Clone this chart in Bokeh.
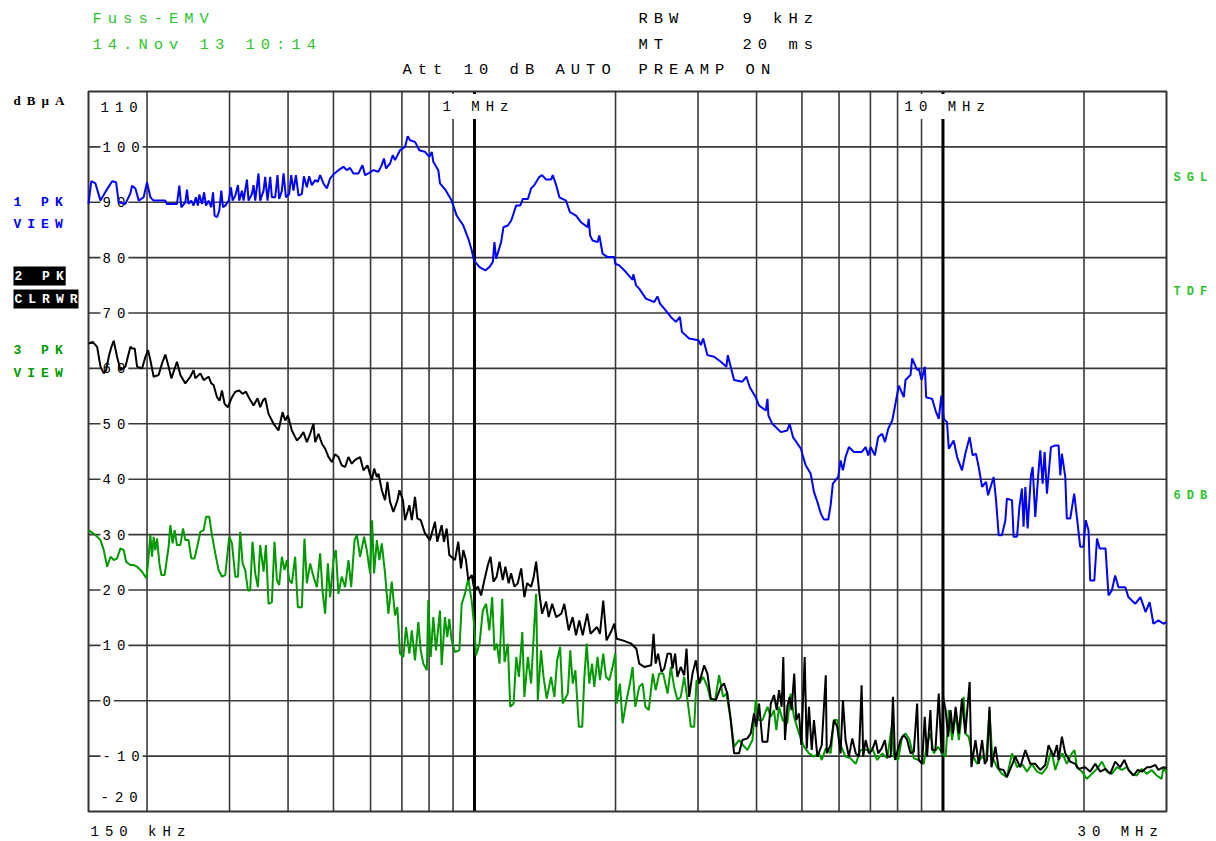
import math
from bokeh.plotting import figure
from bokeh.models import Label
from bokeh.embed import file_html
from bokeh.resources import INLINE

# ---------------- data (frequency in MHz, level in dBuA) ----------------
BLUE_F = [0.150, 0.1521, 0.1552, 0.1591, 0.1636, 0.1685, 0.1718, 0.1740, 0.1798, 0.1843,
          0.1858, 0.1889, 0.1920, 0.1967, 0.2000, 0.2033, 0.2066, 0.2188, 0.2206, 0.2317,
          0.2344, 0.2367, 0.2414, 0.2434, 0.2453, 0.2486, 0.2514, 0.2543, 0.2568, 0.2586,
          0.2621, 0.2647, 0.2673, 0.2707, 0.2743, 0.2766, 0.2788, 0.2821, 0.2853, 0.2881,
          0.2905, 0.2938, 0.2987, 0.3022, 0.3046, 0.3086, 0.3127, 0.3147, 0.3189, 0.3214,
          0.3268, 0.3294, 0.3349, 0.3376, 0.3404, 0.3459, 0.3488, 0.3546, 0.3575, 0.3616,
          0.3664, 0.3694, 0.3755, 0.3798, 0.3829, 0.3880, 0.3912, 0.3959, 0.4022, 0.4062,
          0.4108, 0.4157, 0.4211, 0.4281, 0.4323, 0.4387, 0.4437, 0.4496, 0.4570, 0.4631,
          0.4683, 0.4760, 0.4840, 0.4919, 0.5024, 0.5124, 0.5251, 0.5339, 0.5426, 0.5515,
          0.5652, 0.5765, 0.5841, 0.5937, 0.6084, 0.6235, 0.6338, 0.6409, 0.6474, 0.6603,
          0.6691, 0.6767, 0.6935, 0.7108, 0.7202, 0.7284, 0.7465, 0.7626, 0.7841, 0.8009,
          0.8104, 0.8168, 0.8370, 0.8440, 0.8692, 0.8938, 0.9160, 0.9466, 0.9702, 0.9868,
          0.9975, 1.025, 1.055, 1.076, 1.094, 1.103, 1.112, 1.140, 1.153, 1.178,
          1.198, 1.227, 1.252, 1.268, 1.300, 1.321, 1.342, 1.376, 1.394, 1.422,
          1.457, 1.469, 1.494, 1.518, 1.568, 1.599, 1.647, 1.688, 1.744, 1.753,
          1.765, 1.787, 1.831, 1.847, 1.877, 1.924, 1.988, 1.998, 2.037, 2.105,
          2.175, 2.183, 2.212, 2.247, 2.322, 2.419, 2.458, 2.488, 2.541, 2.625,
          2.691, 2.744, 2.772, 2.872, 3.006, 3.042, 3.077, 3.142, 3.247, 3.356,
          3.449, 3.473, 3.582, 3.731, 3.805, 3.869, 3.984, 4.050, 4.186, 4.220,
          4.240, 4.323, 4.510, 4.652, 4.705, 4.785, 4.975, 5.007, 5.093, 5.220,
          5.304, 5.394, 5.485, 5.571, 5.690, 5.757, 5.820, 5.976, 6.045, 6.115,
          6.195, 6.298, 6.454, 6.704, 6.837, 6.926, 7.007, 7.155, 7.273, 7.418,
          7.518, 7.642, 7.793, 7.927, 8.049, 8.249, 8.318, 8.525, 8.595, 8.808,
          8.879, 9.001, 9.148, 9.206, 9.482, 9.642, 9.795, 9.921, 10.04, 10.20,
          10.29, 10.54, 10.72, 10.98, 11.16, 11.40, 11.57, 11.76, 11.92, 12.12,
          12.36, 12.48, 12.83, 12.98, 13.15, 13.36, 13.59, 13.69, 14.04, 14.15,
          14.39, 14.56, 14.74, 14.86, 14.99, 15.16, 15.41, 15.54, 15.74, 16.00,
          16.13, 16.32, 16.48, 16.67, 17.00, 17.37, 17.65, 17.80, 17.94, 18.24,
          18.38, 18.69, 19.06, 19.31, 19.63, 19.95, 20.17, 20.45, 20.62, 21.04,
          21.32, 21.60, 22.23, 22.56, 22.93, 23.31, 23.69, 24.50, 24.88, 25.72,
          26.39, 27.07, 27.61, 28.13, 28.83, 29.55, 30.0]
BLUE_DB = [89.7, 93.8, 93.4, 90.3, 92.1, 93.8, 93.6, 90.0, 89.7, 91.6,
           93.0, 92.5, 90.3, 90.9, 93.6, 90.9, 90.3, 90.3, 89.7, 89.7,
           93.0, 89.1, 90.0, 92.3, 89.7, 90.3, 89.4, 90.9, 89.4, 91.4,
           89.7, 91.8, 89.4, 90.3, 89.1, 91.8, 87.6, 87.3, 88.5, 92.1,
           89.1, 89.4, 90.3, 92.7, 90.3, 91.2, 93.1, 90.3, 92.1, 90.3,
           94.1, 90.3, 91.5, 93.1, 90.3, 95.2, 90.3, 92.1, 94.6, 90.3,
           94.6, 90.9, 90.9, 94.9, 90.6, 92.1, 95.2, 90.9, 91.5, 94.9,
           92.1, 94.9, 91.2, 91.5, 94.7, 92.7, 94.7, 93.1, 94.0, 93.7,
           94.9, 93.4, 92.5, 94.3, 95.2, 95.8, 96.4, 95.8, 96.2, 95.2,
           95.2, 96.7, 94.9, 95.2, 95.8, 95.5, 96.7, 97.9, 96.1, 97.0,
           98.5, 97.6, 99.4, 100.0, 101.9, 101.2, 100.9, 99.4, 99.1, 98.2,
           99.1, 97.3, 95.8, 93.4, 92.1, 90.3, 87.6, 85.8, 83.4, 81.3,
           79.5, 78.3, 77.7, 78.3, 79.2, 82.8, 79.8, 82.8, 85.5, 85.8,
           86.7, 89.4, 89.4, 90.6, 90.6, 92.5, 93.1, 94.6, 94.9, 94.1,
           94.1, 94.9, 93.1, 90.9, 90.3, 88.2, 87.6, 86.4, 85.5, 87.0,
           84.0, 83.1, 82.8, 84.0, 80.7, 80.1, 80.1, 78.9, 78.6, 77.4,
           76.0, 77.0, 75.0, 74.4, 72.6, 72.0, 73.0, 71.7, 70.8, 69.3,
           68.4, 69.3, 66.6, 65.4, 65.1, 64.2, 65.4, 62.4, 62.1, 61.2,
           60.3, 62.4, 57.9, 57.6, 58.5, 56.6, 54.8, 53.3, 52.4, 54.5,
           51.5, 50.0, 48.5, 48.8, 50.0, 47.6, 45.5, 44.6, 42.5, 41.0,
           37.7, 35.9, 33.8, 32.7, 32.7, 35.3, 39.2, 40.4, 43.4, 41.6,
           44.0, 45.8, 44.9, 44.9, 45.8, 44.3, 45.8, 44.3, 47.6, 48.2,
           46.7, 49.1, 50.6, 53.9, 56.9, 54.8, 57.9, 58.8, 61.8, 59.7,
           60.0, 57.9, 60.3, 54.8, 54.5, 52.4, 50.9, 55.1, 50.9, 50.3,
           45.5, 47.0, 44.0, 41.6, 44.6, 47.6, 44.3, 44.6, 42.2, 38.6,
           39.5, 37.1, 40.4, 36.2, 29.9, 29.9, 32.6, 36.5, 36.2, 29.6,
           29.6, 35.0, 38.3, 31.4, 38.6, 31.1, 40.7, 42.2, 33.2, 41.6,
           45.2, 39.2, 44.9, 37.4, 45.8, 46.1, 46.1, 40.7, 44.6, 40.4,
           32.9, 32.9, 37.4, 33.2, 27.8, 27.8, 32.6, 30.8, 21.7, 21.7,
           29.3, 27.5, 27.5, 19.0, 19.9, 22.6, 20.5, 20.5, 18.7, 17.5,
           18.7, 16.0, 17.8, 13.9, 14.5, 13.9, 14.2]

BLACK_F = [0.150, 0.1531, 0.1565, 0.1591, 0.1617, 0.1636, 0.1657, 0.1679, 0.1698, 0.1726,
           0.1755, 0.1798, 0.1843, 0.1858, 0.1882, 0.1905, 0.1952, 0.1984, 0.2010, 0.2033,
           0.2066, 0.2117, 0.2153, 0.2188, 0.2224, 0.2254, 0.2298, 0.2317, 0.2356, 0.2414,
           0.2474, 0.2514, 0.2536, 0.2599, 0.2642, 0.2707, 0.2743, 0.2774, 0.2821, 0.2857,
           0.2891, 0.2928, 0.2977, 0.3036, 0.3086, 0.3147, 0.3199, 0.3252, 0.3305, 0.3376,
           0.3443, 0.3488, 0.3534, 0.3575, 0.3634, 0.3725, 0.3816, 0.3893, 0.3944, 0.3997,
           0.4076, 0.4176, 0.4245, 0.4314, 0.4387, 0.4459, 0.4532, 0.4570, 0.4646, 0.4725,
           0.4800, 0.4880, 0.4960, 0.5041, 0.5124, 0.5208, 0.5295, 0.5381, 0.5471, 0.5561,
           0.5699, 0.5793, 0.5909, 0.6038, 0.6107, 0.6189, 0.6238, 0.6341, 0.6443, 0.6517,
           0.6603, 0.6713, 0.6848, 0.6916, 0.7035, 0.7108, 0.7262, 0.7349, 0.7465, 0.7551,
           0.7677, 0.7841, 0.8035, 0.8235, 0.8328, 0.8510, 0.8607, 0.8723, 0.8836, 0.9085,
           0.9234, 0.9357, 0.9464, 0.9589, 0.9700, 0.9866, 1.000, 1.017, 1.033, 1.050,
           1.068, 1.082, 1.098, 1.115, 1.131, 1.149, 1.164, 1.183, 1.197, 1.217,
           1.237, 1.258, 1.278, 1.295, 1.321, 1.336, 1.354, 1.376, 1.394, 1.422,
           1.440, 1.465, 1.494, 1.532, 1.555, 1.589, 1.620, 1.647, 1.674, 1.702,
           1.740, 1.769, 1.826, 1.853, 1.883, 1.914, 1.955, 1.988, 2.011, 2.072,
           2.161, 2.216, 2.247, 2.303, 2.383, 2.411, 2.436, 2.465, 2.507, 2.541,
           2.583, 2.625, 2.646, 2.681, 2.711, 2.756, 2.803, 2.835, 2.872, 2.920,
           2.968, 3.017, 3.092, 3.142, 3.194, 3.274, 3.356, 3.410, 3.466, 3.524,
           3.582, 3.671, 3.731, 3.824, 3.888, 3.951, 3.996, 4.050, 4.118, 4.220,
           4.291, 4.359, 4.417, 4.467, 4.526, 4.562, 4.600, 4.652, 4.705, 4.751,
           4.814, 4.861, 4.928, 4.984, 5.068, 5.119, 5.176, 5.246, 5.304, 5.394,
           5.511, 5.621, 5.649, 5.757, 5.851, 5.947, 6.045, 6.115, 6.195, 6.298,
           6.403, 6.512, 6.615, 6.704, 6.757, 6.837, 6.947, 7.060, 7.180, 7.273,
           7.397, 7.518, 7.604, 7.733, 7.822, 7.901, 8.116, 8.249, 8.385, 8.525,
           8.664, 8.808, 8.879, 9.024, 9.143, 9.246, 9.401, 9.475, 9.636, 9.795,
           9.927, 10.01, 10.13, 10.26, 10.38, 10.50, 10.64, 10.81, 10.98, 11.16,
           11.40, 11.50, 11.73, 11.92, 12.12, 12.28, 12.42, 12.57, 12.69, 12.94,
           13.15, 13.47, 13.69, 14.04, 14.27, 14.62, 14.99, 15.36, 15.74, 16.13,
           16.53, 16.80, 17.22, 17.51, 17.65, 17.94, 18.24, 18.69, 19.16, 19.47,
           20.11, 20.62, 21.13, 21.67, 22.23, 22.75, 23.31, 23.88, 24.39, 24.88,
           25.50, 26.06, 26.58, 27.27, 27.72, 28.41, 28.83, 29.55, 30.0]
BLACK_DB = [64.5, 64.8, 63.9, 60.3, 59.1, 59.7, 62.1, 63.9, 65.0, 62.1,
            59.7, 60.3, 63.9, 63.6, 63.6, 60.3, 60.0, 62.1, 63.3, 61.5,
            58.5, 58.8, 60.9, 62.5, 60.3, 58.2, 60.3, 61.2, 58.8, 57.3,
            58.5, 59.7, 58.2, 59.1, 57.9, 58.5, 57.3, 57.0, 54.8, 54.2,
            56.0, 53.6, 53.0, 54.8, 55.8, 56.0, 55.4, 55.8, 54.6, 53.3,
            54.6, 53.0, 54.2, 54.6, 51.8, 50.0, 48.8, 52.1, 50.6, 51.5,
            48.8, 47.0, 47.6, 48.5, 46.7, 48.2, 50.0, 46.7, 48.2, 46.4,
            45.5, 44.0, 43.1, 44.5, 44.0, 42.5, 42.2, 44.0, 42.8, 43.5,
            44.0, 41.6, 42.5, 39.8, 41.9, 40.4, 41.0, 38.0, 36.2, 39.5,
            35.9, 34.1, 36.2, 38.0, 36.2, 32.6, 35.3, 32.6, 36.8, 32.9,
            32.6, 30.2, 29.0, 32.3, 28.7, 31.7, 28.7, 31.1, 26.3, 25.4,
            28.7, 23.9, 27.2, 25.4, 21.8, 22.7, 19.9, 20.6, 19.0, 21.8,
            24.5, 26.0, 21.5, 22.4, 25.1, 21.8, 24.2, 21.2, 23.0, 20.6,
            21.2, 23.9, 18.7, 21.2, 20.6, 22.1, 25.1, 19.3, 15.7, 17.9,
            15.1, 17.5, 15.1, 15.7, 17.5, 12.7, 15.1, 11.8, 14.5, 11.8,
            15.7, 12.1, 13.3, 12.1, 18.1, 10.9, 12.4, 13.9, 11.2, 10.9,
            10.3, 9.4, 6.7, 6.1, 6.4, 12.1, 6.7, 8.5, 5.2, 5.8,
            8.5, 8.5, 5.8, 8.5, 4.3, 6.1, 4.6, 9.4, 0.7, 4.9,
            7.3, 3.1, 6.4, 4.9, 0.4, 0.1, 2.5, 3.1, 1.3, -3.5,
            -9.5, -9.5, -7.1, -6.8, -5.9, -2.3, -4.7, -0.5, -7.4, -7.4,
            -0.5, 1.0, -1.7, 1.9, -1.1, 7.9, -7.1, -1.1, 0.7, -1.7,
            4.9, -3.5, -2.3, -8.0, 7.9, -8.6, -1.1, -8.9, -3.5, -10.1,
            -8.0, 4.6, -9.5, -8.0, -3.5, -4.7, -9.5, 0.1, -7.1, -10.1,
            -6.8, -9.5, -10.1, 2.8, -10.1, -7.1, -9.5, -8.9, -7.1, -9.5,
            -8.6, -7.1, -10.1, -10.1, 0.7, -10.7, -7.1, -6.2, -7.1, -9.5,
            -9.2, -0.5, -10.7, -11.4, -2.9, -10.1, -1.7, -8.9, -8.9, 1.3,
            -9.5, 0.7, -1.7, -6.5, -1.7, -5.9, -1.1, -5.9, 0.4, -5.9,
            3.4, -12.0, -7.1, -11.4, -7.1, -11.4, -10.7, -1.1, -12.0, -8.3,
            -12.3, -12.5, -13.8, -11.6, -10.1, -12.0, -8.9, -11.4, -11.4, -12.5,
            -11.6, -8.0, -10.1, -8.0, -10.7, -6.5, -9.5, -11.0, -11.4, -12.3,
            -12.0, -12.8, -11.4, -12.8, -12.3, -13.2, -11.0, -12.0, -10.7, -12.5,
            -13.5, -12.5, -12.8, -12.0, -12.0, -11.6, -12.5, -12.0, -12.2]

GREEN_F = [0.150, 0.1552, 0.1591, 0.1617, 0.1644, 0.1671, 0.1699, 0.1726, 0.1755, 0.1784,
           0.1804, 0.1843, 0.1873, 0.1905, 0.1952, 0.1993, 0.2010, 0.2033, 0.2050, 0.2066,
           0.2083, 0.2101, 0.2125, 0.2146, 0.2181, 0.2206, 0.2224, 0.2243, 0.2268, 0.2291,
           0.2317, 0.2356, 0.2387, 0.2414, 0.2453, 0.2486, 0.2526, 0.2569, 0.2599, 0.2642,
           0.2673, 0.2716, 0.2752, 0.2797, 0.2843, 0.2891, 0.2938, 0.2996, 0.3036, 0.3086,
           0.3127, 0.3162, 0.3199, 0.3241, 0.3284, 0.3321, 0.3359, 0.3404, 0.3449, 0.3488,
           0.3546, 0.3587, 0.3634, 0.3694, 0.3742, 0.3786, 0.3829, 0.3880, 0.3930, 0.3977,
           0.4022, 0.4076, 0.4142, 0.4197, 0.4281, 0.4336, 0.4387, 0.4459, 0.4533, 0.4609,
           0.4683, 0.4737, 0.4800, 0.4864, 0.4919, 0.5000, 0.5058, 0.5124, 0.5208, 0.5295,
           0.5383, 0.5455, 0.5546, 0.5610, 0.5699, 0.5813, 0.5890, 0.5986, 0.6045, 0.6105,
           0.6188, 0.6266, 0.6341, 0.6443, 0.6549, 0.6659, 0.6767, 0.6845, 0.6935, 0.7049,
           0.7142, 0.7262, 0.7349, 0.7465, 0.7588, 0.7677, 0.7777, 0.7911, 0.7969, 0.8064,
           0.8168, 0.8275, 0.8440, 0.8510, 0.8649, 0.8750, 0.8835, 0.8938, 0.9085, 0.9282,
           0.9392, 0.9542, 0.9702, 0.9868, 0.9975, 1.008, 1.025, 1.042, 1.059, 1.076,
           1.091, 1.103, 1.116, 1.131, 1.146, 1.159, 1.178, 1.192, 1.212, 1.228,
           1.244, 1.265, 1.278, 1.300, 1.321, 1.342, 1.354, 1.365, 1.387, 1.404,
           1.426, 1.457, 1.481, 1.501, 1.523, 1.543, 1.582, 1.601, 1.621, 1.642,
           1.670, 1.698, 1.716, 1.736, 1.758, 1.782, 1.802, 1.831, 1.853, 1.883,
           1.908, 1.940, 1.971, 1.998, 2.011, 2.044, 2.071, 2.105, 2.147, 2.175,
           2.204, 2.247, 2.285, 2.316, 2.355, 2.403, 2.436, 2.479, 2.528, 2.583,
           2.625, 2.668, 2.713, 2.756, 2.803, 2.849, 2.897, 2.944, 2.978, 3.017,
           3.077, 3.142, 3.194, 3.263, 3.328, 3.394, 3.449, 3.524, 3.582, 3.671,
           3.743, 3.824, 3.921, 3.984, 4.036, 4.118, 4.220, 4.291, 4.359, 4.408,
           4.467, 4.548, 4.652, 4.730, 4.808, 4.928, 5.050, 5.176, 5.304, 5.436,
           5.511, 5.621, 5.757, 5.851, 5.947, 6.045, 6.195, 6.350, 6.512, 6.669,
           6.779, 6.947, 7.060, 7.238, 7.418, 7.604, 7.772, 7.854, 8.021, 8.181,
           8.318, 8.484, 8.664, 8.879, 9.100, 9.246, 9.401, 9.557, 9.764, 9.961,
           10.13, 10.29, 10.46, 10.64, 10.81, 10.95, 11.07, 11.16, 11.35, 11.53,
           11.82, 12.12, 12.36, 12.57, 12.74, 13.04, 13.36, 13.69, 14.04, 14.39,
           14.74, 15.11, 15.48, 15.87, 16.26, 16.67, 17.03, 17.37, 17.65, 17.99,
           18.38, 18.84, 19.09, 19.31, 19.79, 20.28, 20.79, 21.32, 21.84, 22.38,
           22.93, 23.50, 24.08, 24.68, 25.29, 25.91, 26.56, 27.22, 27.89, 28.58,
           29.29, 29.55, 30.0]
GREEN_DB = [30.8, 29.9, 29.0, 27.2, 24.2, 26.0, 25.4, 25.7, 27.5, 27.2,
            25.1, 24.5, 24.5, 24.2, 23.3, 22.1, 24.8, 29.9, 26.0, 29.6,
            27.2, 29.3, 24.8, 22.7, 22.7, 25.7, 27.8, 31.7, 28.4, 30.8,
            28.1, 28.1, 31.1, 29.0, 29.0, 25.7, 25.7, 28.4, 30.5, 30.8,
            33.2, 33.2, 29.9, 26.6, 23.6, 22.4, 22.7, 29.6, 28.4, 22.4,
            22.4, 30.5, 24.8, 23.6, 19.9, 19.9, 28.7, 23.0, 20.5, 28.1,
            23.3, 28.1, 17.5, 17.8, 28.7, 21.8, 20.9, 26.0, 23.6, 25.4,
            21.8, 21.2, 26.0, 16.9, 16.9, 29.3, 21.2, 24.8, 22.4, 20.5,
            26.6, 19.9, 15.7, 24.8, 18.7, 25.4, 27.2, 19.3, 22.4, 20.5,
            25.4, 20.5, 29.0, 29.9, 26.0, 29.6, 27.2, 23.0, 32.6, 23.0,
            29.0, 25.4, 28.4, 23.0, 15.7, 21.5, 15.4, 16.9, 8.5, 7.9,
            13.3, 8.5, 12.7, 7.3, 14.2, 9.1, 6.7, 5.5, 18.2, 7.9,
            15.1, 9.1, 16.3, 6.4, 15.1, 11.5, 14.8, 10.9, 8.8, 9.1,
            17.5, 19.3, 22.1, 17.8, 13.9, 8.2, 10.3, 16.3, 17.5, 12.7,
            18.7, 9.1, 10.3, 6.7, 18.4, 7.0, 10.3, -1.1, -0.5, 7.9,
            4.3, 12.4, 0.7, 7.9, 3.1, 13.9, 19.3, 0.1, 9.1, 4.3,
            0.4, 4.3, 0.7, 7.3, 9.7, -0.5, 1.3, 9.1, 3.1, 5.5,
            -4.7, -4.7, 4.3, 10.3, 3.1, 6.7, 2.5, 7.9, 3.7, 8.5,
            4.3, 3.7, 6.1, 8.5, -0.5, 3.1, -4.1, -0.5, 3.1, 6.1,
            -1.1, 2.5, 3.1, -1.1, -1.7, 4.9, 1.9, 4.9, 4.9, 1.3,
            6.1, 2.5, 0.1, 0.7, 4.3, 0.1, -4.7, -4.7, 3.7, 3.1,
            4.3, 2.5, 0.1, 0.1, 4.6, 0.7, 1.3, -3.5, -8.3, -7.1,
            -8.0, -8.9, -7.1, 0.1, -3.5, -3.5, -1.1, -2.9, -1.7, -5.3,
            -1.1, -3.5, -4.1, 1.3, -2.9, -5.9, -8.3, -9.5, -10.1, -9.5,
            -10.7, -8.6, -9.5, -3.5, -3.5, -8.0, -10.1, -10.4, -11.4, -8.9,
            -8.9, -8.9, -8.6, -10.7, -9.5, -10.4, -4.7, -10.1, -10.7, -6.5,
            -5.9, -7.1, -10.4, -10.7, -11.4, -7.7, -5.9, -9.5, -8.3, -9.5,
            -10.1, -1.7, -7.1, -2.3, -7.1, -2.9, 0.7, -5.9, -6.5, -9.5,
            -11.4, -10.1, -10.7, -1.7, -10.1, -12.0, -13.2, -13.8, -9.5, -12.0,
            -11.4, -12.8, -11.4, -12.8, -13.2, -12.0, -8.9, -12.5, -10.7, -9.5,
            -11.4, -9.5, -8.9, -12.0, -12.8, -14.1, -13.2, -12.3, -11.0, -12.8,
            -13.2, -12.0, -12.5, -12.0, -13.2, -13.5, -12.3, -13.2, -12.5, -13.5,
            -14.1, -12.0, -13.0]

LEVEL_TICKS = [100, 90, 80, 70, 60, 50, 40, 30, 20, 10, 0, -10]
FREQ_GRID = [0.2, 0.3, 0.4, 0.5, 0.6, 0.7, 0.8, 0.9, 2, 3, 4, 5, 6, 7, 8, 9, 20]
FREQ_MARK = [1, 10]
X_MIN, X_MAX = 0.15, 30.0
Y_MIN, Y_MAX = -20, 110

HEADER_LEFT = ["Fuss-EMV", "14.Nov 13 10:14"]
HEADER_RIGHT = [("RBW", "9 kHz"), ("MT", "20 ms")]
HEADER_ATT = ["Att 10 dB AUTO", "PREAMP ON"]
TRACE_INFO = [("1 PK", "VIEW"), ("2 PK", "CLRWR"), ("3 PK", "VIEW")]
RIGHT_FLAGS = ["SGL", "TDF", "6DB"]

# ---------------- layout / styling ----------------
W, H = 1216, 841
FRAME_L, FRAME_T, FRAME_R, FRAME_B = 88, 91, 1166, 811   # page pixels of the data box
FONT = "Liberation Mono"
GRID_COLOR = "#3a3a3a"
BLUE = "#0000ff"
BLACK = "#000000"
GREEN = "#009900"
LIGHT_GREEN = "#2ec42e"

# the plotting frame fills the whole canvas; ranges are widened so that the
# measured data box (X_MIN..X_MAX, Y_MIN..Y_MAX) lands where the reference has it
ppd = (FRAME_R - FRAME_L) / math.log10(X_MAX / X_MIN)
x_lo = X_MIN * 10 ** (-FRAME_L / ppd)
x_hi = X_MAX * 10 ** ((W - FRAME_R) / ppd)
ppu = (FRAME_B - FRAME_T) / (Y_MAX - Y_MIN)
y_hi = Y_MAX + FRAME_T / ppu
y_lo = Y_MIN - (H - FRAME_B) / ppu

p = figure(width=W, height=H, x_axis_type="log",
           x_range=(x_lo, x_hi), y_range=(y_lo, y_hi),
           x_axis_location=None, y_axis_location=None,
           toolbar_location=None, output_backend="svg",
           min_border_left=0, min_border_right=0,
           min_border_top=0, min_border_bottom=0)
p.xgrid.visible = False
p.ygrid.visible = False
p.outline_line_color = None
p.background_fill_color = "white"
p.border_fill_color = "white"
p.styles = {"letter-spacing": "6px"}

# grid lines (drawn at the lowest level so labels can mask them)
p.segment(x0=FREQ_GRID, y0=[Y_MIN] * len(FREQ_GRID), x1=FREQ_GRID, y1=[Y_MAX] * len(FREQ_GRID),
          line_color=GRID_COLOR, line_width=1.6, level="image")
p.segment(x0=[X_MIN] * len(LEVEL_TICKS), y0=LEVEL_TICKS, x1=[X_MAX] * len(LEVEL_TICKS), y1=LEVEL_TICKS,
          line_color=GRID_COLOR, line_width=1.6, level="image")
p.segment(x0=FREQ_MARK, y0=[Y_MIN] * len(FREQ_MARK), x1=FREQ_MARK, y1=[Y_MAX] * len(FREQ_MARK),
          line_color="black", line_width=3, level="image")
p.quad(left=[X_MIN], right=[X_MAX], bottom=[Y_MIN], top=[Y_MAX], fill_color=None,
       line_color="#333333", line_width=2, level="image")


def page_label(text, px, py, size, color="black", style="normal", font=FONT, **kw):
    lab = Label(x=X_MIN, y=Y_MAX, x_offset=px - FRAME_L, y_offset=FRAME_T - py,
                text=text, text_font=font, text_font_size=f"{size}px",
                text_color=color, text_font_style=style,
                text_baseline="middle", text_align="left", **kw)
    p.add_layout(lab)
    return lab


# level tick labels sitting on the grid lines
for v in LEVEL_TICKS:
    t = str(v)
    p.add_layout(Label(x=X_MIN, y=v, x_offset=12, text=t, text_font=FONT,
                       text_font_size="14px", text_color="black",
                       text_baseline="middle", text_align="left",
                       background_fill_color="white",
                       padding=dict(left=2, right=6 * len(t) - 3, top=0, bottom=0),
                       level="underlay"))
p.add_layout(Label(x=X_MIN, y=Y_MAX, x_offset=12, y_offset=-15, text=str(Y_MAX),
                   text_font=FONT, text_font_size="14px", text_color="black",
                   text_baseline="middle", text_align="left", level="underlay"))
p.add_layout(Label(x=X_MIN, y=Y_MIN, x_offset=12, y_offset=15, text=str(Y_MIN),
                   text_font=FONT, text_font_size="14px", text_color="black",
                   text_baseline="middle", text_align="left", level="underlay"))

# frequency marker labels
page_label("1 MHz", 440, 106, 14, background_fill_color="white",
           padding=dict(left=2, right=34, top=5, bottom=4), level="underlay")
page_label("10 MHz", 902, 106, 14, background_fill_color="white",
           padding=dict(left=2, right=38, top=5, bottom=4), level="underlay")

# traces
p.line(GREEN_F, GREEN_DB, line_color=GREEN, line_width=2)
p.line(BLACK_F, BLACK_DB, line_color=BLACK, line_width=2)
p.line(BLUE_F, BLUE_DB, line_color=BLUE, line_width=2)

# header
page_label(HEADER_LEFT[0], 92, 18, 15.5, color=LIGHT_GREEN)
page_label(HEADER_LEFT[1], 92, 44, 15.5, color=LIGHT_GREEN)
for (k, v), py in zip(HEADER_RIGHT, [18, 44]):
    page_label(k, 638, py, 15.5)
    page_label(v, 742, py, 15.5)
page_label(HEADER_ATT[0], 402, 69, 15.5)
page_label(HEADER_ATT[1], 638, 69, 15.5)

# unit
page_label("dBµA", 13, 100, 13, style="bold", font="Liberation Serif")

# trace info on the left
page_label(TRACE_INFO[0][0], 13, 202, 13, color=BLUE, style="bold")
page_label(TRACE_INFO[0][1], 13, 224, 13, color=BLUE, style="bold")
page_label(TRACE_INFO[1][0], 13, 275.5, 13, color="white", style="bold",
           background_fill_color="black", padding=dict(left=1, right=20, top=2, bottom=2))
page_label(TRACE_INFO[1][1], 13, 298.5, 13, color="white", style="bold",
           background_fill_color="black", padding=dict(left=1, right=25, top=2, bottom=2))
page_label(TRACE_INFO[2][0], 13, 350, 13, color=GREEN, style="bold")
page_label(TRACE_INFO[2][1], 13, 373, 13, color=GREEN, style="bold")

# flags on the right
for txt, py in zip(RIGHT_FLAGS, [177, 291, 495]):
    page_label(txt, 1173, py, 12, color=LIGHT_GREEN, style="bold")

# frequency span labels below
page_label("150 kHz", 90, 831, 14)
page_label("30 MHz", 1077, 831, 14)

open("out.html", "w").write(file_html(p, INLINE))
